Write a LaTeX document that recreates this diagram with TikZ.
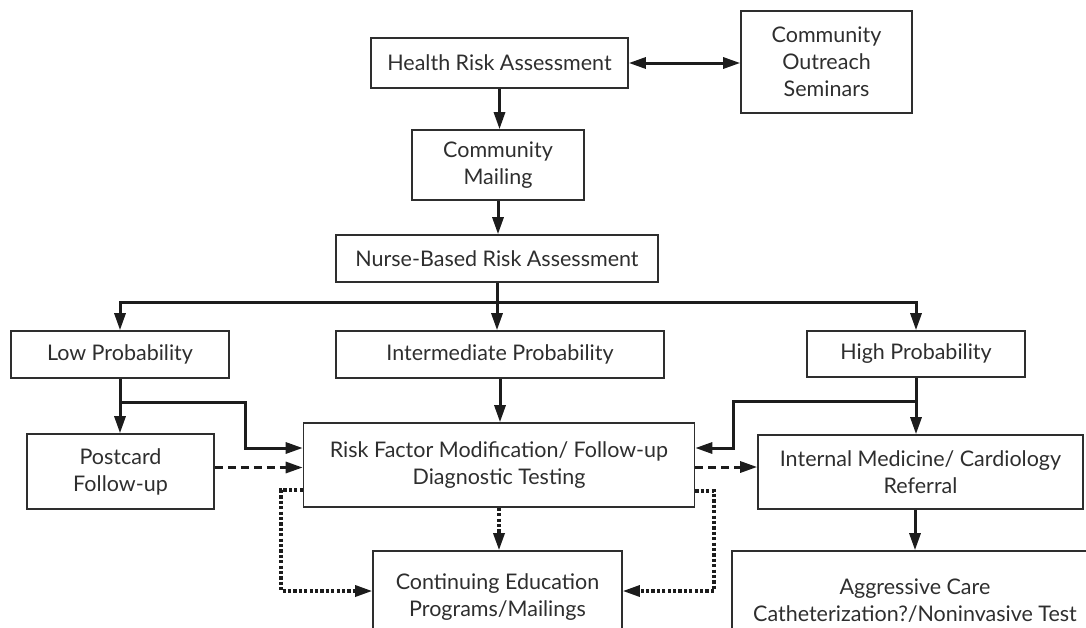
\documentclass[tikz,border=0pt]{standalone}
\usepackage{fontspec}
\setmainfont{Lato}
\definecolor{fcInk}{HTML}{2E2E2E}
\definecolor{fcLine}{HTML}{1C1C1C}
\usetikzlibrary{calc,arrows.meta}

\begin{document}
\begin{tikzpicture}[x=1pt, y=-1pt,
  box/.style={draw=fcInk, line width=1.6pt, text=fcInk, align=center, inner sep=0pt,
    font=\fontsize{21.5}{27}\selectfont},
  flow/.style={draw=fcLine, line width=3pt, -{Triangle[length=17pt,width=11pt]}},
  twoway/.style={flow, {Triangle[length=17pt,width=11pt]}-{Triangle[length=17pt,width=11pt]}},
  maybe/.style={flow, dash pattern=on 8pt off 5pt},
  later/.style={flow, line width=3.2pt, dash pattern=on 3.2pt off 2.2pt}]
  \useasboundingbox (0,0) rectangle (1086,627);
  \clip (0,0) rectangle (1086,627);

  % screening entry
  \node[box, minimum width=257pt, minimum height=50pt] (hra) at (499.5,63) {Health Risk Assessment};
  \node[box, minimum width=171pt, minimum height=102pt] (outreach) at (826.5,62) {Community\\Outreach\\Seminars};
  \node[box, minimum width=172pt, minimum height=70pt] (mailing) at (498,165) {Community\\Mailing};
  \node[box, minimum width=322pt, minimum height=47pt] (nurse) at (497,258.5) {Nurse-Based Risk Assessment};

  % risk strata
  \node[box, minimum width=218pt, minimum height=47pt] (low) at (120,354.5) {Low Probability};
  \node[box, minimum width=328pt, minimum height=47pt] (inter) at (500,354.5) {Intermediate Probability};
  \node[box, minimum width=218pt, minimum height=46pt] (high) at (916,354) {High Probability};

  % follow-up level
  \node[box, minimum width=187pt, minimum height=75pt] (postcard) at (120.5,471.5) {Postcard\\Follow-up};
  \node[box, minimum width=391pt, minimum height=84pt] (risk) at (499,465) {Risk Factor Modification/ Follow-up\\Diagnostic Testing};
  \node[box, minimum width=325pt, minimum height=74pt] (intmed) at (920.5,472) {Internal Medicine/ Cardiology\\Referral};

  % bottom row, runs off the page
  \node[box, minimum width=249pt, minimum height=92pt] (cont) at (497.5,597) {Continuing Education\\Programs/Mailings};
  \node[box, minimum width=366pt, minimum height=100pt] (aggr) at (915,601) {Aggressive Care\\Catheterization?/Noninvasive Test};

  \coordinate (split) at (499,302);
  \coordinate (lowfork) at (120,402);
  \coordinate (lowjog) at (245,402);
  \coordinate (highfork) at (915,401);
  \coordinate (highjog) at (733,401);
  \coordinate (dotleft) at (281,591);
  \coordinate (dotright) at (714,591);

  \draw[twoway] (hra.east) -- (hra.east -| outreach.west);
  \draw[flow] (hra.south) -- (hra.south |- mailing.north);
  \draw[flow] (mailing.south) -- (mailing.south |- nurse.north);
  \draw[flow] (nurse.south) -- (nurse.south |- inter.north);
  \draw[flow] (split) -| (low.north);
  \draw[flow] (split) -| (high.north);

  \draw[flow] (low.south) -- (low.south |- postcard.north);
  \draw[flow] (lowfork) -- (lowjog) |- ([yshift=17pt]risk.west);
  \draw[flow] (inter.south) -- (inter.south |- risk.north);
  \draw[flow] (high.south) -- (high.south |- intmed.north);
  \draw[flow] (highfork) -- (highjog) |- ([yshift=17pt]risk.east);
  \draw[flow] (aggr.north |- intmed.south) -- (aggr.north);

  \draw[maybe] ([yshift=4pt]postcard.east) -- ([yshift=4pt]postcard.east -| risk.west);
  \draw[maybe] ([yshift=-2pt]risk.east) -- ([yshift=-2pt]risk.east -| intmed.west);

  \draw[later] (risk.south) -- (risk.south |- cont.north);
  \draw[later] ([yshift=-25pt]risk.west) -| (dotleft) -- (dotleft -| cont.west);
  \draw[later] ([yshift=-26pt]risk.east) -| (dotright) -- (dotright -| cont.east);
\end{tikzpicture}
\end{document}
